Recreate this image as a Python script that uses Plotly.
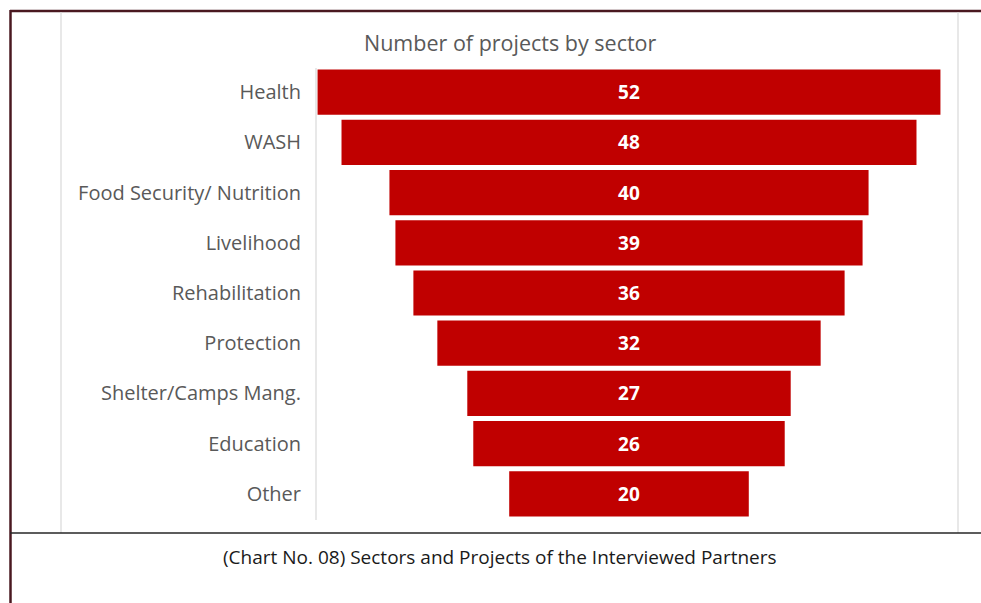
import plotly.graph_objects as go

# Sectors and number of projects per sector
sectors = ["Health", "WASH", "Food Security/ Nutrition", "Livelihood",
           "Rehabilitation", "Protection", "Shelter/Camps Mang.", "Education", "Other"]
projects = [52, 48, 40, 39, 36, 32, 27, 26, 20]

title_text = "Number of projects by sector"
caption_text = "(Chart No. 08) Sectors and Projects of the Interviewed Partners"

W, H = 981, 603
L, R, T, B = 316, 39, 67, 84
FONT = "Open Sans, Calibri, sans-serif"

pw = W - L - R
ph = H - T - B


def px_x(x):
    return (x - L) / pw


def px_y(y):
    return 1 - (y - T) / ph


fig = go.Figure(go.Funnel(
    y=sectors,
    x=projects,
    marker=dict(color="#c00000", line=dict(width=0)),
    connector=dict(visible=False),
    textinfo="value",
    textposition="inside",
    insidetextanchor="middle",
    textfont=dict(color="white", size=19, family=FONT),
    texttemplate="<b>%{value}</b>",
    hoverinfo="y+x",
))

shapes = [
    # outer frame
    dict(type="line", xref="paper", yref="paper", x0=px_x(10), x1=px_x(981),
         y0=px_y(11), y1=px_y(11), line=dict(color="#4a1820", width=2.5)),
    dict(type="line", xref="paper", yref="paper", x0=px_x(10.5), x1=px_x(10.5),
         y0=px_y(10), y1=px_y(603), line=dict(color="#4a1820", width=2.5)),
    # chart box edges
    dict(type="line", xref="paper", yref="paper", x0=px_x(61), x1=px_x(61),
         y0=px_y(12), y1=px_y(533), line=dict(color="#d9d9d9", width=1.2)),
    dict(type="line", xref="paper", yref="paper", x0=px_x(958), x1=px_x(958),
         y0=px_y(12), y1=px_y(533), line=dict(color="#d9d9d9", width=1.2)),
    # separator above caption
    dict(type="line", xref="paper", yref="paper", x0=px_x(10), x1=px_x(981),
         y0=px_y(533), y1=px_y(533), line=dict(color="#262626", width=1.5)),
    # category axis line
    dict(type="line", xref="paper", yref="paper", x0=0, x1=0,
         y0=px_y(68), y1=px_y(520), line=dict(color="#d9d9d9", width=1.2)),
]

annotations = [
    dict(text=title_text, xref="paper", yref="paper", x=px_x(510), y=px_y(43),
         showarrow=False, xanchor="center", yanchor="middle",
         font=dict(family=FONT, size=21.5, color="#595959")),
    dict(text=caption_text, xref="paper", yref="paper", x=px_x(500), y=px_y(557),
         showarrow=False, xanchor="center", yanchor="middle",
         font=dict(family=FONT, size=19, color="#1a1a1a")),
]

fig.update_layout(
    width=W, height=H,
    margin=dict(l=L, r=R, t=T, b=B, pad=0),
    paper_bgcolor="white", plot_bgcolor="white",
    showlegend=False,
    funnelgap=0.1,
    shapes=shapes,
    annotations=annotations,
    font=dict(family=FONT),
    xaxis=dict(visible=False, range=[-26.13, 26.13]),
    yaxis=dict(showgrid=False, showline=False, ticks="", ticklabelstandoff=14,
               tickfont=dict(family=FONT, size=20, color="#595959"),
               automargin=False),
)

fig.write_html("out.html")
